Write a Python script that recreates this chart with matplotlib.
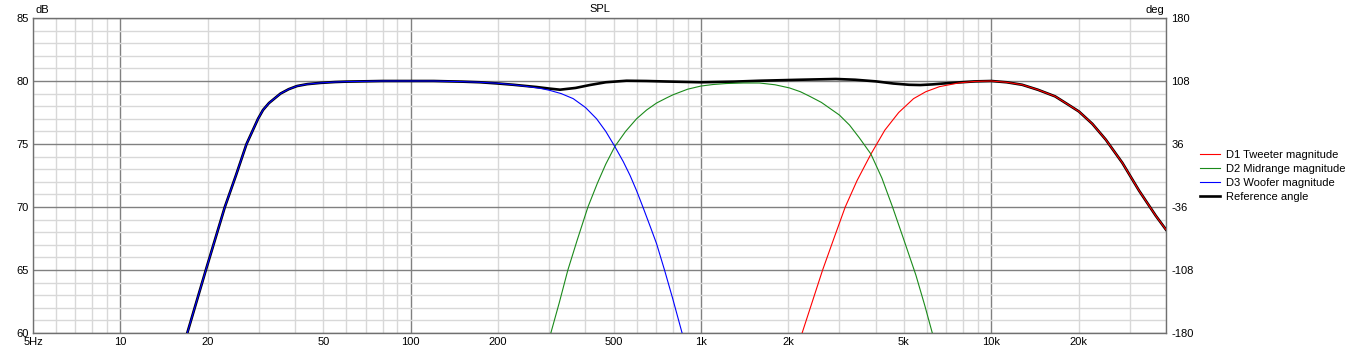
import matplotlib
matplotlib.use("Agg")
import matplotlib.pyplot as plt
from matplotlib.ticker import FixedLocator, NullFormatter

plt.rcParams['font.family'] = ['Liberation Sans', 'DejaVu Sans']

# ---- data (frequency in Hz, level in dB) ----
woofer_f = [17.0, 19.7, 22.9, 25.0, 27.2, 29.8, 31.0, 32.5, 35.6, 38.0, 40.6, 44.0, 48.9, 55, 60, 80, 120,
            150, 173, 200, 226, 250, 279, 301, 330, 363, 400, 437, 470, 505, 540, 570, 600, 631,
            670, 703, 749, 800, 861]
woofer_db = [60, 65, 70, 72.5, 75, 77, 77.7, 78.25, 79, 79.35, 79.6, 79.75, 79.85, 79.92, 79.95, 80, 80,
             79.95, 79.9, 79.82, 79.7, 79.58, 79.42, 79.26, 79.0, 78.6, 77.9, 77.0, 76.0, 74.8, 73.6, 72.5,
             71.3, 70.0, 68.4, 67.1, 65.0, 62.7, 60.0]

mid_f = [304, 325, 348, 375, 408, 440, 470, 505, 550, 600, 650, 703, 760, 802, 900, 1000, 1100,
         1222, 1400, 1591, 1800, 2018, 2200, 2363, 2600, 2998, 3250, 3510, 3851, 4200, 4571,
         5000, 5500, 5900, 6266]
mid_db = [60, 62.4, 65, 67.4, 70, 71.9, 73.4, 74.8, 76.0, 77.0, 77.7, 78.25, 78.65, 78.91, 79.35, 79.6,
          79.72, 79.8, 79.84, 79.84, 79.7, 79.45, 79.15, 78.8, 78.3, 77.3, 76.5, 75.5, 74.2, 72.3, 70.0,
          67.4, 64.6, 62.2, 60]

tw_f = [2231, 2420, 2625, 2870, 3141, 3450, 3851, 4300, 4800, 5400, 5951, 6630, 7745, 8800, 10000,
        11300, 12780, 14500, 16600, 18200, 20050, 22300, 24800, 28300, 32300, 36900, 40000]
tw_db = [60, 62.5, 65, 67.5, 70, 72.1, 74.2, 76.1, 77.5, 78.6, 79.15, 79.55, 79.85, 79.97, 80.0,
         79.9, 79.7, 79.3, 78.78, 78.2, 77.58, 76.6, 75.35, 73.5, 71.3, 69.3, 68.2]

ref_f = [17.0, 19.7, 22.9, 25.0, 27.2, 29.8, 31.0, 32.5, 35.6, 38.0, 40.6, 44.0, 48.9, 55, 60, 80, 120,
         150, 173, 200, 226, 272, 300, 327, 370, 414, 470, 554, 650, 759, 1000, 1300, 1591, 2200,
         2917, 3400, 4009, 4600, 5211, 5700, 6266, 7000, 7745, 8800, 10000,
         11300, 12780, 14500, 16600, 18200, 20050, 22300, 24800, 28300, 32300, 36900, 40000]
ref_db = [60, 65, 70, 72.5, 75, 77, 77.7, 78.25, 79, 79.35, 79.6, 79.75, 79.85, 79.92, 79.95, 80, 80,
          79.95, 79.9, 79.8, 79.7, 79.52, 79.4, 79.31, 79.45, 79.68, 79.9, 80.02, 80.0, 79.96, 79.9,
          79.95, 80.02, 80.1, 80.16, 80.1, 79.97, 79.8, 79.7, 79.68, 79.73, 79.82, 79.89, 79.97, 80.0,
          79.9, 79.7, 79.3, 78.78, 78.2, 77.58, 76.6, 75.35, 73.5, 71.3, 69.3, 68.2]

xticks = [5, 10, 20, 50, 100, 200, 500, 1000, 2000, 5000, 10000, 20000]
xlabels = ['5Hz', '10', '20', '50', '100', '200', '500', '1k', '2k', '5k', '10k', '20k']
yticks = [60, 65, 70, 75, 80, 85]
deg_ticks = [-180, -108, -36, 36, 108, 180]

W, H = 1352, 351
fig = plt.figure(figsize=(W / 100, H / 100), dpi=100)
L, R, T, B = 33, 1166, 18, 333
ax = fig.add_axes([L / W, 1 - B / H, (R - L) / W, (B - T) / H])

ax.set_xscale('log')
ax.set_xlim(5, 40000)
ax.set_ylim(60, 85)

major_c = '#808080'
minor_c = '#d8d8d8'
ax.xaxis.set_major_locator(FixedLocator([10, 100, 1000, 10000]))
minor_x = [m * 10 ** e for e in range(0, 5) for m in range(2, 10) if 5 <= m * 10 ** e <= 40000]
ax.xaxis.set_minor_locator(FixedLocator(minor_x))
ax.yaxis.set_major_locator(FixedLocator(yticks))
ax.yaxis.set_minor_locator(FixedLocator(list(range(60, 86))))
ax.grid(which='minor', color=minor_c, lw=1.0)
ax.grid(which='major', color=major_c, lw=1.0)
ax.set_axisbelow(True)
ax.tick_params(which='both', length=0)
ax.xaxis.set_major_formatter(NullFormatter())
ax.xaxis.set_minor_formatter(NullFormatter())
ax.set_yticklabels([str(v) for v in yticks])
ax.tick_params(axis='y', labelsize=8, pad=3)

for v, lab in zip(xticks, xlabels):
    ax.annotate(lab, xy=(v, 0), xycoords=('data', 'axes fraction'), xytext=(0, -3),
                textcoords='offset points', ha='center', va='top', fontsize=8)

for s in ax.spines.values():
    s.set_color('#707070')
    s.set_linewidth(1.0)

ax.plot(ref_f, ref_db, color='black', lw=1.9, zorder=3, label='Reference angle',
        solid_joinstyle='round')
ax.plot(tw_f, tw_db, color='#ff0000', lw=0.8, zorder=4, label='D1 Tweeter magnitude')
ax.plot(mid_f, mid_db, color='#1a8a1a', lw=0.8, zorder=4, label='D2 Midrange magnitude')
ax.plot(woofer_f, woofer_db, color='#0000ff', lw=0.8, zorder=4, label='D3 Woofer magnitude')

ax2 = ax.twinx()
ax2.set_ylim(-180, 180)
ax2.set_yticks(deg_ticks)
ax2.set_yticklabels([str(v) for v in deg_ticks])
ax2.tick_params(length=0, labelsize=8, pad=4)
for s in ax2.spines.values():
    s.set_visible(False)

fig.text(L / W + 0.002, 1 - 10 / H, 'dB', ha='left', va='center', fontsize=8)
fig.text((L + R) / 2 / W, 1 - 9 / H, 'SPL', ha='center', va='center', fontsize=8)
fig.text(R / W - 0.001, 1 - 10 / H, 'deg', ha='right', va='center', fontsize=8)

handles, labels = ax.get_legend_handles_labels()
order = [1, 2, 3, 0]
fig.legend([handles[i] for i in order], [labels[i] for i in order],
           loc='upper left', bbox_to_anchor=(1200 / W, 1 - 150 / H),
           frameon=False, fontsize=8, handlelength=1.8, handletextpad=0.5,
           labelspacing=0.36, borderpad=0, borderaxespad=0)

fig.savefig('out.png', dpi=100)
